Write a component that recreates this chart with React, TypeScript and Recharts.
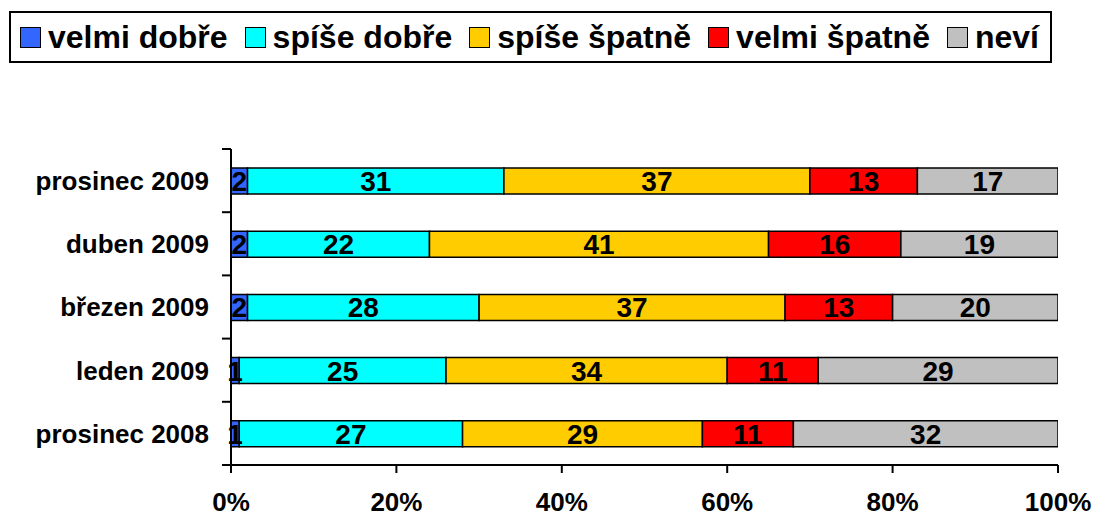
import { BarChart, Bar, XAxis, YAxis, LabelList } from "recharts";

const categories = ["prosinec 2009", "duben 2009", "březen 2009", "leden 2009", "prosinec 2008"];
const velmiDobre = [2, 2, 2, 1, 1];
const spiseDobre = [31, 22, 28, 25, 27];
const spiseSpatne = [37, 41, 37, 34, 29];
const velmiSpatne = [13, 16, 13, 11, 11];
const nevi = [17, 19, 20, 29, 32];
const xTicks = [0, 20, 40, 60, 80, 100];

const series = [
  { key: "velmiDobre", name: "velmi dobře", color: "#3366FF", values: velmiDobre },
  { key: "spiseDobre", name: "spíše dobře", color: "#00FFFF", values: spiseDobre },
  { key: "spiseSpatne", name: "spíše špatně", color: "#FFCC00", values: spiseSpatne },
  { key: "velmiSpatne", name: "velmi špatně", color: "#FF0000", values: velmiSpatne },
  { key: "nevi", name: "neví", color: "#C0C0C0", values: nevi },
];

const data = categories.map((c, i) => {
  const row: Record<string, string | number> = { kategorie: c };
  series.forEach((s) => {
    row[s.key] = s.values[i];
  });
  return row;
});

const FONT = '"Liberation Sans", Arial, Helvetica, sans-serif';
const BAND = 316 / categories.length;

function CategoryTick(props: any) {
  const { x, y, payload, index } = props;
  return (
    <g>
      <text x={x} y={y} dy="0.36em" textAnchor="end" fontSize={26} fontWeight="bold" fill="#000" fontFamily={FONT}>
        {payload.value}
      </text>
      <line x1={x + 13} x2={x + 22} y1={y - BAND / 2} y2={y - BAND / 2} stroke="#000" strokeWidth={2} />
      {index === categories.length - 1 && (
        <line x1={x + 13} x2={x + 22} y1={y + BAND / 2} y2={y + BAND / 2} stroke="#000" strokeWidth={2} />
      )}
    </g>
  );
}

function Legenda() {
  return (
    <div
      style={{
        position: "absolute",
        left: 9,
        top: 11,
        width: 1043,
        height: 52,
        border: "2px solid #000",
        boxSizing: "border-box",
        display: "flex",
        alignItems: "center",
        paddingLeft: 9,
        fontFamily: FONT,
        fontWeight: "bold",
        fontSize: 32,
        color: "#000",
        background: "#fff",
        whiteSpace: "nowrap",
        overflow: "hidden",
      }}
    >
      {series.map((s) => (
        <div key={s.key} style={{ display: "flex", alignItems: "center", marginRight: 17, flexShrink: 0 }}>
          <span
            style={{
              display: "inline-block",
              width: 21,
              height: 21,
              boxSizing: "border-box",
              border: "1.5px solid #000",
              background: s.color,
              marginRight: 7,
              flexShrink: 0,
            }}
          />
          <span style={{ lineHeight: 1 }}>{s.name}</span>
        </div>
      ))}
    </div>
  );
}

export default function App() {
  return (
    <div style={{ position: "absolute", left: 0, top: 0, width: 1093, height: 516, background: "#fff", fontFamily: FONT }}>
      <Legenda />
      <BarChart
        width={1093}
        height={516}
        data={data}
        layout="vertical"
        margin={{ top: 149, right: 35, bottom: 0, left: 0 }}
        barSize={26}
      >
        <XAxis
          type="number"
          domain={[0, 100]}
          ticks={xTicks}
          tickFormatter={(v) => `${v}%`}
          interval={0}
          height={51}
          tick={{ fontSize: 26, fontWeight: "bold", fill: "#000", fontFamily: FONT }}
          tickSize={8}
          tickMargin={20}
          axisLine={{ stroke: "#000", strokeWidth: 2 }}
          tickLine={{ stroke: "#000", strokeWidth: 2 }}
          allowDataOverflow
        />
        <YAxis
          type="category"
          dataKey="kategorie"
          width={231}
          tick={<CategoryTick />}
          tickSize={9}
          tickMargin={13}
          tickLine={false}
          axisLine={{ stroke: "#000", strokeWidth: 2 }}
          interval={0}
        />
        {series.map((s) => (
          <Bar
            key={s.key}
            dataKey={s.key}
            name={s.name}
            stackId="a"
            fill={s.color}
            stroke="#000"
            strokeWidth={1.5}
            isAnimationActive={false}
          >
            <LabelList
              dataKey={s.key}
              position="center"
              fill="#000"
              fontSize={28}
              fontWeight="bold"
              fontFamily={FONT}
            />
          </Bar>
        ))}
      </BarChart>
    </div>
  );
}
